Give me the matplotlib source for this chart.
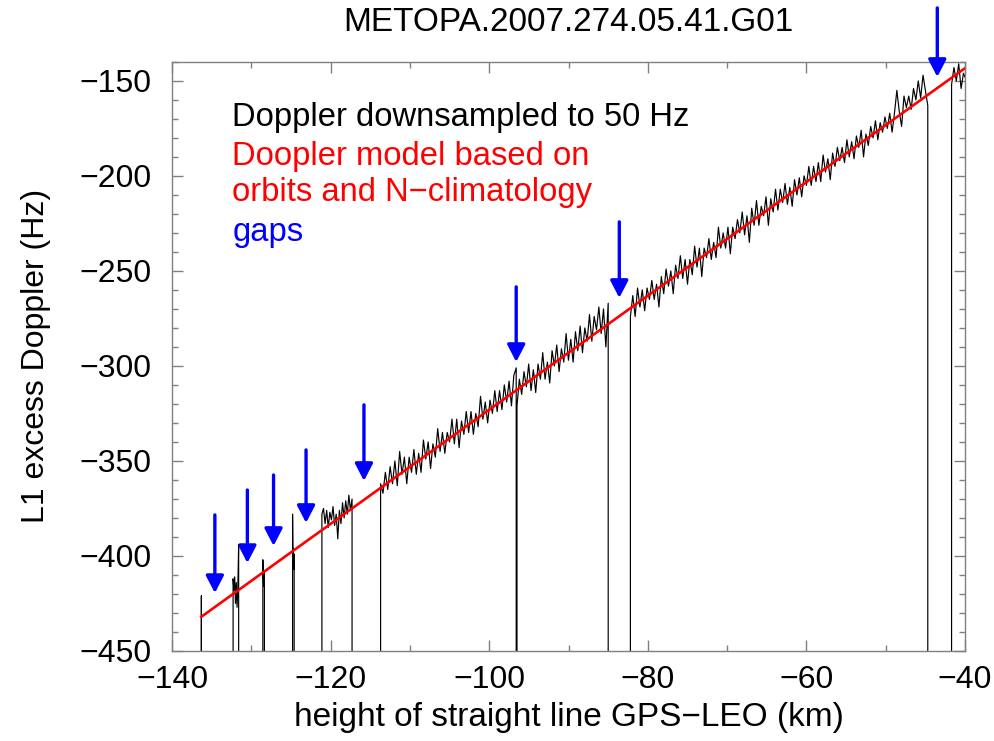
import numpy as np
import matplotlib
matplotlib.use('Agg')
import matplotlib.pyplot as plt

plt.rcParams['font.family'] = ['Liberation Sans', 'DejaVu Sans']

# red model line (orbits + N-climatology), read at a few heights
model_x = [-136.3, -113.8, -86.0, -60.6, -40.0]
model_y = [-432.0, -364.5, -281.0, -205.0, -143.3]

# Doppler downsampled to 50 Hz: segments between the gaps (start km, end km, values Hz)
seg0 = (-136.3, -136.3, [-421])
seg1 = (-132.3, -131.6, [-412, -418, -411, -425, -414, -427, -416, -394])
seg2 = (-128.55, -128.35, [-402, -410, -416, -408, -412])
seg3 = (-124.8, -124.6, [-378, -402, -396, -407, -399])
seg4 = (-121.1, -117.3, [-378, -375, -383, -376, -385, -377, -381, -374, -384, -378,
                         -391, -376, -383, -372, -380, -371, -378, -368, -376, -370])
seg5 = (-113.7, -96.6, [-362, -367, -356, -365, -353, -362, -350, -363, -345, -357,
                        -348, -362, -348, -356, -344, -357, -346, -356, -339, -349,
                        -340, -354, -341, -348, -333, -345, -335, -346, -335, -340,
                        -328, -341, -328, -343, -329, -336, -324, -335, -324, -336,
                        -325, -332, -316, -328, -319, -330, -318, -325, -313, -324,
                        -313, -323, -310, -319, -308, -321, -305, -301])
seg6 = (-96.5, -85.0, [-321, -307, -315, -303, -311, -299, -313, -302, -314, -299,
                       -307, -293, -307, -298, -309, -292, -300, -289, -303, -291,
                       -298, -283, -297, -286, -298, -282, -292, -279, -293, -280,
                       -287, -273, -287, -274, -281, -269, -283, -270, -290, -267])
seg7 = (-82.2, -44.7, [-274, -263, -274, -259, -269, -260, -271, -259, -265, -255,
                       -265, -257, -269, -253, -262, -249, -258, -250, -262, -247,
                       -254, -242, -254, -244, -257, -244, -252, -237, -248, -238,
                       -253, -238, -243, -233, -244, -235, -243, -227, -238, -230,
                       -238, -227, -241, -227, -233, -223, -230, -219, -231, -221,
                       -235, -217, -226, -213, -226, -216, -221, -211, -226, -212,
                       -219, -207, -218, -207, -214, -204, -215, -206, -216, -202,
                       -210, -201, -211, -200, -205, -195, -205, -195, -203, -193,
                       -203, -189, -198, -191, -202, -188, -195, -185, -192, -185,
                       -193, -181, -190, -182, -191, -179, -185, -176, -190, -178,
                       -184, -174, -180, -171, -181, -172, -177, -169, -175, -167,
                       -177, -167, -155, -166, -174, -158, -164, -158, -165, -154,
                       -160, -150, -159, -147, -155, -163])
seg8 = (-41.7, -39.9, [-152, -143, -150, -141, -154, -146, -149])
segments = [seg0, seg1, seg2, seg3, seg4, seg5, seg6, seg7, seg8]
gap_value = -470  # gaps are filled far below the axis

# blue arrows marking the gaps: x, tail y, tip y
arrow_x = [-134.6, -130.5, -127.2, -123.1, -115.8, -96.6, -83.6, -43.5]
arrow_tail = [-378.4, -365.3, -357.4, -344.2, -320.5, -258.4, -224.2, -111.6]
arrow_tip = [-419.5, -403.7, -394.7, -382.6, -360.5, -297.9, -264.2, -147.9]

xs, ys = [], []
for x0, x1, vals in segments:
    sx = np.linspace(x0, x1, len(vals))
    xs += [sx[0]] + list(sx) + [sx[-1]]
    ys += [gap_value] + list(vals) + [gap_value]

fig = plt.figure(figsize=(9.95, 7.41), dpi=100)
ax = fig.add_axes([0.1729, 0.1215, 0.797, 0.795])

ax.plot(xs, ys, color='black', lw=0.85)
ax.plot(model_x, model_y, color='red', lw=1.9)

for x, t0, t1 in zip(arrow_x, arrow_tail, arrow_tip):
    ax.annotate('', xy=(x, t1), xytext=(x, t0),
                arrowprops=dict(arrowstyle='-|>,head_length=0.52,head_width=0.27',
                                mutation_scale=20, lw=2.4, color='blue',
                                shrinkA=0, shrinkB=0),
                annotation_clip=False)

ax.set_xlim(-140, -40)
ax.set_ylim(-450, -140)
ax.set_xticks(np.arange(-140, -39, 20))
ax.set_xticks(np.arange(-140, -39, 10), minor=True)
ax.set_yticks(np.arange(-450, -149, 50))
ax.set_yticks(np.arange(-450, -139, 10), minor=True)

for s in ax.spines.values():
    s.set_color('#808080')
    s.set_linewidth(1.0)
ax.tick_params(which='both', direction='in', top=True, right=True, color='#808080', width=1.0)
ax.tick_params(which='major', length=8)
ax.tick_params(which='minor', length=4.5)
ax.tick_params(axis='y', labelsize=23, pad=15)
ax.tick_params(axis='x', labelsize=23, pad=10)

ax.set_xlabel('height of straight line GPS\u2212LEO (km)', fontsize=24, labelpad=5)
ax.set_ylabel('L1 excess Doppler (Hz)', fontsize=23, labelpad=20)
fig.text(0.571, 0.969, 'METOPA.2007.274.05.41.G01', fontsize=24, ha='center', va='center')

ax.text(0.076, 0.905, 'Doppler downsampled to 50 Hz', color='black', fontsize=23.6,
        transform=ax.transAxes, va='center')
ax.text(0.076, 0.839, 'Doopler model based on', color='red', fontsize=23.6,
        transform=ax.transAxes, va='center')
ax.text(0.076, 0.778, 'orbits and N\u2212climatology', color='red', fontsize=23.6,
        transform=ax.transAxes, va='center')
ax.text(0.076, 0.711, 'gaps', color='blue', fontsize=23.6,
        transform=ax.transAxes, va='center')

fig.savefig('out.png', dpi=100)
